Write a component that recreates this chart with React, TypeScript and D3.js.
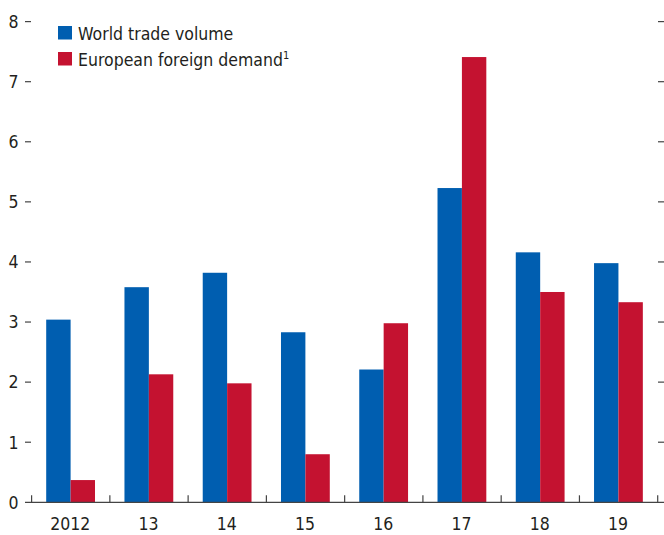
import React from "react";
import * as d3 from "d3";

const categories = ["2012", "13", "14", "15", "16", "17", "18", "19"];
const worldTrade = [3.04, 3.58, 3.82, 2.83, 2.21, 5.23, 4.16, 3.98];
const europeanDemand = [0.37, 2.13, 1.98, 0.8, 2.98, 7.41, 3.5, 3.33];
const yTicks = [0, 1, 2, 3, 4, 5, 6, 7, 8];
const seriesNames = ["World trade volume", "European foreign demand"];

const BLUE = "#005eb0";
const RED = "#c41230";
const AXIS = "#444";
const TEXT = "#231f20";
const FONT = "'Liberation Sans Narrow', 'DejaVu Sans Condensed', 'DejaVu Sans', sans-serif";

export default function App() {
  const W = 664, H = 535;
  const x = d3.scaleBand<string>().domain(categories).range([31.6, 657.7]).padding(0);
  const inner = d3.scaleBand<string>().domain(["w", "e"]).range([14.6, 63.4]).padding(0);
  const y = d3.scaleLinear().domain([0, 8]).range([502.3, 21.6]);
  const y0 = y(0);
  const bounds = [...categories.map((c) => x(c)!), x.range()[1]];

  return (
    <svg width={W} height={H} style={{ position: "absolute", left: 0, top: 0, background: "#fff" }} fontFamily={FONT}>
      {/* bars */}
      {categories.map((c, i) => (
        <g key={c} transform={`translate(${x(c)},0)`}>
          <rect x={inner("w")} width={inner.bandwidth()} y={y(worldTrade[i])} height={y0 - y(worldTrade[i])} fill={BLUE} />
          <rect x={inner("e")} width={inner.bandwidth()} y={y(europeanDemand[i])} height={y0 - y(europeanDemand[i])} fill={RED} />
        </g>
      ))}
      {/* baseline */}
      <line x1={25} x2={664} y1={y0} y2={y0} stroke={AXIS} strokeWidth={1.3} />
      {/* category separator ticks */}
      {bounds.map((b, i) => (
        <line key={i} x1={b} x2={b} y1={y0} y2={y0 - 7} stroke={AXIS} strokeWidth={1.2} />
      ))}
      {/* left axis */}
      {yTicks.map((t) => (
        <g key={t}>
          <text x={18.5} y={y(t)} dy="0.36em" textAnchor="end" fontSize={17.5} fill={TEXT}>{t}</text>
          {t > 0 && <line x1={25} x2={31} y1={y(t)} y2={y(t)} stroke={AXIS} strokeWidth={1.2} />}
          {t > 0 && <line x1={658} x2={664} y1={y(t)} y2={y(t)} stroke={AXIS} strokeWidth={1.2} />}
        </g>
      ))}
      {/* x labels */}
      {categories.map((c) => (
        <text key={c} x={x(c)! + x.bandwidth() / 2 - 0.5} y={530} textAnchor="middle" fontSize={17.5} fill={TEXT}>{c}</text>
      ))}
      {/* legend */}
      <rect x={58} y={26} width={14} height={13.5} fill={BLUE} />
      <text x={78} y={39.5} fontSize={17.5} fill={TEXT}>{seriesNames[0]}</text>
      <rect x={58} y={52} width={14} height={13.5} fill={RED} />
      <text x={78} y={65.5} fontSize={17.5} fill={TEXT}>
        {seriesNames[1]}
        <tspan fontSize={11} dy={-7}>1</tspan>
      </text>
    </svg>
  );
}
